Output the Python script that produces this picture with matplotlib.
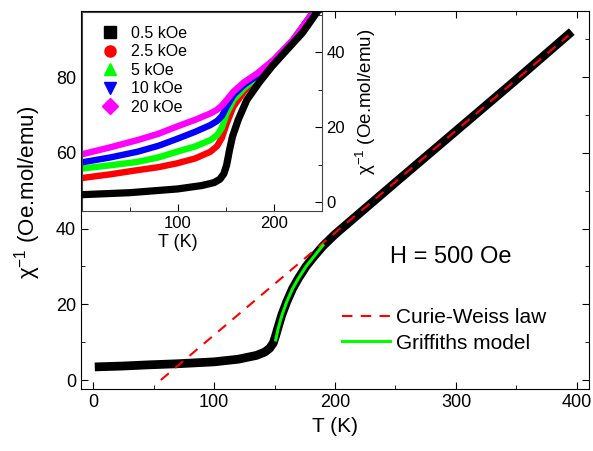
import matplotlib
matplotlib.use('Agg')
import matplotlib.pyplot as plt
from matplotlib.lines import Line2D
from matplotlib.ticker import MultipleLocator, FixedLocator

plt.rcParams['font.family'] = ['Liberation Sans', 'DejaVu Sans']
plt.rcParams['mathtext.fontset'] = 'custom'
plt.rcParams['mathtext.rm'] = 'Liberation Sans'

# main panel: H = 500 Oe
T_main = [5, 25, 45, 70, 100, 120, 135, 142, 146, 149, 151, 153, 156, 160, 165, 170, 176, 183, 190, 200,
          250, 300, 350, 393]
chi_main = [3.5, 3.7, 4.0, 4.3, 4.8, 5.5, 6.5, 7.4, 8.4, 9.8, 11.8, 14.0, 17.2, 20.6, 24.2, 27.0, 30.0, 32.8,
            35.4, 38.5, 52.2, 65.8, 79.4, 91.3]

# Curie-Weiss fit line
T_cw = [56, 393]
chi_cw = [0, 91]

# Griffiths model
T_gr = [151, 153, 156, 160, 165, 170, 176, 183, 190]
chi_gr = [10.6, 13.6, 17.0, 20.6, 24.2, 27.0, 30.0, 32.8, 35.6]

# inset: several fields
inset_labels = ['0.5 kOe', '2.5 kOe', '5 kOe', '10 kOe', '20 kOe']
inset_colors = ['black', '#ff0000', '#00ff00', '#0000ff', '#ff00ff']
inset_markers = ['s', 'o', '^', 'v', 'D']
T_05 = [3, 50, 100, 125, 138, 144, 148, 151, 154, 157, 163, 172, 185, 198, 215, 230, 246]
chi_05 = [2.1, 2.6, 3.6, 4.5, 5.3, 6.2, 7.6, 10.0, 14.0, 17.5, 22.0, 27.3, 32.0, 36.2, 41.0, 45.2, 51.0]
T_f = [3, 30, 58, 80, 99, 118, 134, 141, 146, 151, 158, 169, 183, 200, 220, 242]
chi_25 = [6.6, 7.5, 8.6, 9.4, 10.4, 11.7, 13.5, 15.0, 17.2, 21.0, 25.5, 29.5, 33.5, 37.5, 43.0, 51.0]
chi_5 = [9.1, 9.9, 10.8, 12.0, 13.5, 14.9, 16.6, 17.9, 19.9, 23.7, 27.3, 30.4, 33.5, 37.7, 43.1, 51.0]
chi_10 = [10.8, 12.0, 13.5, 15.1, 16.9, 18.8, 20.6, 21.7, 23.0, 25.5, 28.6, 31.3, 33.8, 37.8, 43.2, 51.0]
chi_20 = [13.0, 14.7, 16.6, 18.3, 20.2, 22.0, 23.7, 24.7, 25.8, 27.3, 29.5, 32.0, 34.4, 38.0, 43.3, 51.0]

fig = plt.figure(figsize=(5.93, 4.51), dpi=100)
ax = fig.add_axes([0.1366, 0.1364, 0.8567, 0.8392])

ax.plot(T_main, chi_main, color='black', lw=6.3, solid_capstyle='projecting', solid_joinstyle='round', zorder=2)
ax.plot(T_cw, chi_cw, color='#ff0000', lw=1.5, dashes=(5, 4), label='Curie-Weiss law', zorder=3)
ax.plot(T_gr, chi_gr, color='#00ff00', lw=2.2, label='Griffiths model', zorder=4)

ax.set_xlim(-10, 410)
ax.set_ylim(-2.5, 97.5)
ax.xaxis.set_major_locator(MultipleLocator(100))
ax.xaxis.set_minor_locator(MultipleLocator(50))
ax.yaxis.set_major_locator(MultipleLocator(20))
ax.yaxis.set_minor_locator(MultipleLocator(10))
ax.tick_params(which='both', direction='in', top=True, right=True, labelsize=13)
ax.tick_params(which='major', length=5)
ax.tick_params(which='minor', length=3)
ax.set_xlabel('T (K)', fontsize=15)
ax.set_ylabel(r'χ$^{\mathregular{-1}}$ (Oe.mol/emu)', fontsize=16)
ax.yaxis.set_label_coords(-0.075, 0.52)
ax.text(0.608, 0.333, 'H = 500 Oe', transform=ax.transAxes, fontsize=17, va='baseline')
ax.legend(loc='upper left', bbox_to_anchor=(0.513, 0.214), frameon=False, fontsize=15,
          handlelength=2.3, handletextpad=0.3, labelspacing=0.3, borderpad=0, borderaxespad=0)

# inset
ins = fig.add_axes([0.1378, 0.5328, 0.4047, 0.4412])
ins.set_zorder(5)
ins.patch.set_facecolor('white')
ins.plot(T_05, chi_05, color=inset_colors[0], lw=5.2, zorder=6, solid_joinstyle='round')
for chi, c in zip([chi_25, chi_5, chi_10, chi_20], inset_colors[1:]):
    ins.plot(T_f, chi, color=c, lw=4.6, solid_joinstyle='round')
ins.set_xlim(0, 250)
ins.set_ylim(-2.2, 50.8)
ins.xaxis.set_major_locator(FixedLocator([100, 200]))
ins.xaxis.set_minor_locator(FixedLocator([50, 150]))
ins.yaxis.set_major_locator(MultipleLocator(20))
ins.yaxis.set_minor_locator(MultipleLocator(10))
ins.yaxis.tick_right()
ins.yaxis.set_label_position('right')
ins.tick_params(which='both', direction='in', labelsize=12)
ins.tick_params(which='major', length=5)
ins.tick_params(which='minor', length=3)
for s in ins.spines.values():
    s.set_color('#444444')
ins.set_xlabel('T (K)', fontsize=13)
ins.xaxis.set_label_coords(0.4, -0.115)
ins.set_ylabel(r'χ$^{\mathregular{-1}}$ (Oe.mol/emu)', fontsize=13.5)
ins.yaxis.set_label_coords(1.13, 0.546)

handles = [Line2D([], [], color=c, marker=m, ls='none', ms=8) for c, m in zip(inset_colors, inset_markers)]
ins.legend(handles, inset_labels, loc='upper left', bbox_to_anchor=(0.085, 0.93), frameon=False,
           fontsize=11.5, handlelength=1.0, handletextpad=0.8, labelspacing=0.22, borderpad=0, borderaxespad=0)

fig.savefig('out.png', dpi=100)
